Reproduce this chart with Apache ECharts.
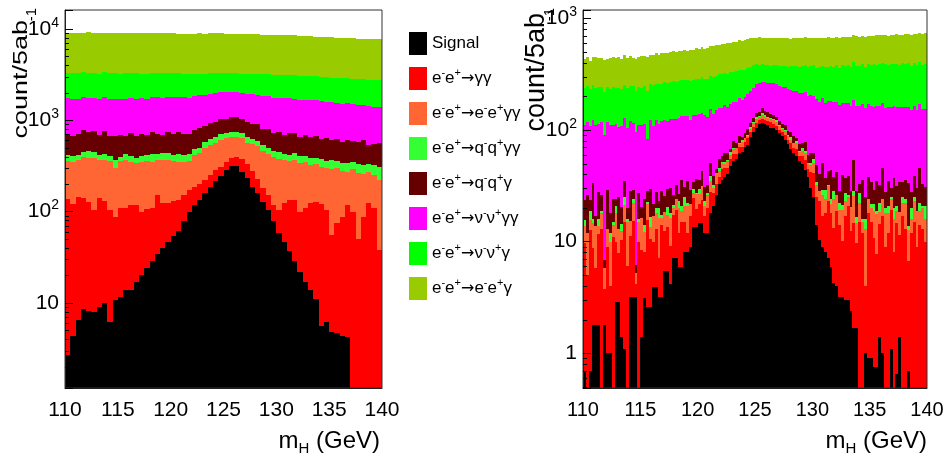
<!DOCTYPE html>
<html>
<head>
<meta charset="utf-8">
<script src="https://cdn.jsdelivr.net/npm/echarts@6/dist/echarts.min.js"></script>
<style>
  html, body { margin: 0; background: #fff; }
  #main { width: 952px; height: 456px; }
</style>
</head>
<body>
<div id="main"></div>
<script>
'use strict';

var FONT = '"Liberation Sans", Arial, sans-serif';

// processes, bottom of the stack first
var processes = ['Signal', 'e⁻e⁺→γγ', 'e⁻e⁺→e⁻e⁺γγ', 'e⁻e⁺→q⁻q⁺γγ', 'e⁻e⁺→q⁻q⁺γ', 'e⁻e⁺→ν⁻ν⁺γγ', 'e⁻e⁺→ν⁻ν⁺γ', 'e⁻e⁺→e⁻e⁺γ'];
var colors = ['#000000', '#ff0000', '#ff6633', '#33ff33', '#660000', '#ff00ff', '#00ff00', '#99cc00'];

var xTicks = [110, 115, 120, 125, 130, 135, 140];

// ---- left plot: 60 bins of 0.5 GeV, 110..140 ----
var sigL = [
  2.7, 4.3, 6.5, 8.6, 8.2, 8.0, 9.1, 10, 6.2, 10.8,
  11.7, 13.9, 14, 17, 20, 24, 29, 34, 40, 47,
  54, 62, 78, 98, 118, 135, 160, 185, 215, 248,
  282, 316, 312, 270, 233, 188, 160, 128, 104, 78,
  58, 46, 37, 29, 22, 17, 14, 11, 5.6, 6.2,
  4.8, 4.7, 4.3, 4.2, 0, 0, 0, 0, 0, 0
];
var gamgamL = [
  136, 116, 138, 131, 120, 96, 130, 120, 98, 77,
  98, 96, 104, 101, 80, 82, 81, 116, 85, 77,
  76, 73, 72, 73, 68, 65, 60, 65, 69, 60,
  63, 69, 88, 110, 100, 90, 65, 52, 46, 40,
  46, 78, 96, 104, 76, 93, 110, 117, 114, 98,
  50, 70, 83, 114, 100, 50, 87, 124, 110, 38
];
var eegamgamL = [
  221, 225, 225, 255, 257, 286, 231, 235, 256, 212,
  245, 260, 227, 222, 250, 254, 240, 215, 240, 246,
  230, 210, 195, 189, 229, 240, 280, 290, 286, 302,
  290, 265, 255, 260, 237, 267, 295, 280, 280, 277,
  276, 241, 227, 232, 242, 235, 196, 202, 190, 196,
  235, 225, 193, 152, 190, 215, 168, 146, 140, 182
];
var qqgamgamL = [
  55, 60, 48, 52, 70, 58, 45, 62, 50, 66,
  40, 55, 64, 48, 52, 58, 75, 60, 72, 66,
  58, 80, 75, 70, 68, 62, 72, 80, 85, 88,
  90, 92, 88, 82, 78, 80, 75, 70, 68, 62,
  66, 60, 58, 72, 65, 60, 70, 55, 68, 62,
  75, 58, 64, 72, 55, 68, 70, 62, 70, 90
];
var qqgamL = [
  300, 260, 290, 330, 280, 310, 270, 340, 260, 300,
  290, 250, 320, 280, 300, 270, 310, 290, 260, 300,
  280, 320, 290, 270, 300, 310, 290, 320, 300, 330,
  310, 340, 330, 310, 300, 290, 320, 280, 300, 270,
  290, 260, 300, 280, 250, 290, 260, 280, 240, 270,
  250, 260, 230, 270, 240, 250, 280, 200, 230, 260
];
var nunugamgamL = [
  1030, 1050, 1010, 1040, 1020, 1000, 1040, 1030, 1050, 1060,
  1030, 1050, 1020, 1060, 1040, 1030, 1050, 1070, 1060, 1040,
  1080, 1050, 1070, 1060, 1040, 1060, 1030, 1020, 1010, 1000,
  980, 960, 950, 970, 990, 1000, 990, 1020, 1030, 1040,
  1030, 1050, 1020, 1010, 1030, 990, 1000, 980, 990, 960,
  950, 940, 950, 930, 920, 900, 880, 890, 850, 810
];
var nunugamL = [
  1560, 1540, 1570, 1530, 1550, 1560, 1520, 1540, 1550, 1530,
  1520, 1540, 1510, 1530, 1500, 1520, 1510, 1490, 1500, 1480,
  1470, 1460, 1440, 1420, 1390, 1370, 1350, 1320, 1300, 1270,
  1250, 1230, 1230, 1240, 1260, 1290, 1310, 1340, 1360, 1380,
  1390, 1400, 1410, 1390, 1400, 1380, 1390, 1370, 1380, 1360,
  1370, 1350, 1360, 1340, 1350, 1360, 1340, 1350, 1360, 1370
];
var eegamL = [
  5800, 5750, 5820, 5780, 5850, 5760, 5800, 5740, 5790, 5770,
  5720, 5760, 5700, 5750, 5690, 5720, 5700, 5740, 5680, 5650,
  5700, 5640, 5680, 5660, 5620, 5680, 5650, 5700, 5640, 5660,
  5620, 5580, 5600, 5560, 5540, 5520, 5500, 5470, 5480, 5440,
  5400, 5380, 5350, 5360, 5300, 5280, 5260, 5220, 5200, 5180,
  5150, 5120, 5100, 5060, 5050, 5000, 4980, 4960, 5000, 4950
];

// ---- right plot: 120 bins of 0.25 GeV, 110..140 ----
var sigR = [
  0.7, 0, 0.7, 1.8, 1.8, 1.8, 0, 1.8, 1.0, 1.0,
  0, 2.9, 2.9, 1.4, 1.1, 0, 3.2, 3.2, 3.2, 0,
  1.4, 3.1, 2.6, 2.6, 3.9, 3.9, 3.2, 3.2, 5.5, 5.5,
  4.2, 7.2, 7.2, 5.9, 5.9, 8.0, 8.0, 8.9, 13.5, 13.5,
  14.6, 14.6, 12, 12, 18, 21, 26, 33, 36, 38,
  40, 48, 53, 55, 62, 64, 70, 74, 86, 95,
  104, 112, 115, 113, 110, 105, 105, 100, 93, 88,
  81, 75, 68, 62, 59, 53, 50, 44, 38, 30,
  25, 14, 10.3, 9, 8, 7.2, 5.9, 4.3, 4.0, 3.2,
  3.2, 3.0, 3.0, 2.4, 1.7, 1.7, 0, 0, 1.0, 0.9,
  0.9, 0.75, 0.75, 1.4, 1.0, 0, 0, 1.1, 0, 0.65,
  1.4, 0, 0, 0.7, 0, 0, 0, 0, 0, 0
];
var gamgamR = [
  9, 5, 12, 7, 4, 10, 13, 2, 8, 3,
  11, 7, 5, 9, 14, 6, 8, 12, 1, 10,
  7, 5, 13, 8, 6, 9, 4, 11, 7, 8,
  5, 10, 12, 6, 9, 7, 4, 8, 11, 6,
  7, 9, 5, 8, 10, 6, 7, 5, 9, 8,
  6, 7, 8, 6, 9, 7, 8, 10, 9, 11,
  12, 10, 11, 9, 10, 12, 8, 9, 7, 8,
  10, 6, 9, 7, 8, 6, 9, 10, 7, 12,
  16, 11, 13, 8, 10, 16, 12, 9, 15, 11,
  7, 14, 18, 10, 13, 8, 15, 12, 3, 17,
  14, 10, 7, 13, 16, 9, 12, 18, 8, 14,
  10, 17, 13, 6, 12, 15, 9, 14, 13, 10
];
var eegamgamR = [
  4, 7, 3, 6, 8, 2, 5, 2, 4, 6,
  3, 8, 5, 2, 6, 9, 4, 7, 1, 5,
  8, 4, 6, 3, 7, 5, 9, 2, 6, 4,
  7, 3, 5, 8, 4, 6, 9, 5, 3, 7,
  5, 8, 4, 6, 7, 3, 8, 5, 6, 4,
  7, 5, 6, 8, 4, 7, 6, 5, 8, 9,
  10, 9, 11, 10, 9, 8, 10, 9, 8, 7,
  6, 8, 5, 7, 9, 4, 6, 8, 5, 7,
  10, 7, 5, 9, 6, 8, 4, 11, 7, 5,
  9, 6, 4, 8, 11, 5, 7, 3, 9, 6,
  5, 8, 10, 4, 7, 9, 6, 5, 8, 4,
  7, 5, 9, 6, 4, 8, 10, 5, 7, 6
];
var qqgamgamR = [
  2, 0, 3, 1, 0, 2, 1, 0, 0, 2,
  1, 3, 0, 2, 4, 1, 0, 2, 0, 1,
  0, 2, 1, 3, 0, 2, 4, 1, 0, 3,
  2, 1, 0, 3, 2, 4, 1, 0, 2, 1,
  3, 0, 2, 1, 4, 2, 0, 3, 1, 2,
  1, 3, 2, 0, 2, 3, 1, 2, 4, 3,
  4, 3, 5, 4, 3, 4, 3, 4, 3, 2,
  3, 2, 4, 1, 3, 2, 4, 3, 1, 2,
  4, 2, 0, 3, 5, 1, 2, 4, 0, 3,
  2, 4, 1, 0, 3, 2, 5, 1, 3, 0,
  2, 3, 1, 4, 0, 2, 3, 1, 4, 2,
  0, 3, 2, 1, 4, 2, 0, 3, 1, 5
];
var qqgamR = [
  8, 14, 5, 18, 3, 12, 7, 1, 16, 6,
  9, 3, 12, 6, 10, 4, 13, 5, 1, 11,
  4, 10, 6, 13, 5, 8, 3, 11, 7, 9,
  12, 5, 8, 4, 15, 6, 13, 7, 5, 9,
  6, 11, 8, 5, 12, 7, 4, 9, 6, 10,
  8, 5, 10, 7, 12, 6, 9, 11, 8, 10,
  12, 11, 14, 13, 12, 10, 11, 9, 10, 8,
  11, 7, 9, 12, 6, 10, 8, 13, 9, 11,
  7, 15, 12, 22, 8, 11, 20, 10, 16, 6,
  18, 10, 13, 8, 25, 12, 6, 20, 9, 14,
  12, 7, 16, 10, 22, 8, 14, 5, 17, 11,
  16, 9, 12, 20, 8, 14, 11, 24, 12, 10
];
var nunugamgamR = [
  88, 92, 85, 90, 94, 86, 91, 84, 89, 93,
  87, 90, 82, 88, 92, 85, 91, 86, 89, 84,
  90, 88, 55, 92, 87, 95, 89, 93, 97, 91,
  96, 99, 94, 100, 97, 102, 98, 95, 101, 99,
  103, 100, 105, 98, 104, 101, 106, 102, 99, 104,
  100, 103, 98, 102, 105, 100, 104, 108, 110, 112,
  114, 116, 115, 118, 120, 122, 125, 126, 128, 130,
  132, 134, 135, 136, 138, 140, 139, 141, 140, 142,
  140, 141, 139, 142, 138, 140, 137, 139, 136, 138,
  135, 137, 134, 136, 133, 135, 132, 134, 131, 133,
  130, 132, 129, 131, 128, 130, 127, 129, 126, 128,
  125, 127, 124, 126, 123, 125, 122, 124, 121, 123
];
var nunugamR = [
  125, 130, 122, 128, 126, 131, 124, 129, 127, 123,
  130, 126, 132, 125, 128, 134, 127, 131, 126, 133,
  129, 135, 140, 138, 142, 136, 144, 139, 145, 141,
  143, 148, 144, 150, 146, 149, 145, 151, 147, 152,
  148, 153, 150, 155, 151, 156, 152, 157, 158, 160,
  158, 162, 156, 160, 154, 158, 150, 152, 145, 138,
  130, 122, 118, 115, 114, 116, 118, 122, 125, 130,
  133, 138, 142, 146, 150, 155, 158, 162, 166, 170,
  176, 172, 185, 180, 192, 186, 195, 188, 200, 194,
  206, 198, 210, 204, 216, 208, 212, 220, 214, 222,
  218, 226, 220, 230, 222, 228, 216, 232, 224, 229,
  221, 233, 226, 235, 224, 230, 227, 236, 228, 234
];
var eegamR = [
  195, 205, 188, 200, 210, 192, 198, 207, 190, 203,
  212, 200, 208, 196, 215, 204, 210, 198, 214, 206,
  218, 210, 224, 212, 220, 228, 216, 225, 219, 230,
  226, 235, 230, 238, 232, 242, 236, 245, 240, 250,
  246, 255, 250, 260, 256, 265, 270, 262, 275, 268,
  280, 274, 285, 278, 290, 284, 295, 288, 296, 290,
  286, 292, 280, 288, 282, 290, 285, 294, 288, 296,
  290, 298, 286, 295, 300, 292, 288, 302, 294, 298,
  292, 305, 296, 288, 300, 310, 294, 302, 298, 306,
  300, 312, 296, 308, 302, 316, 306, 298, 310, 304,
  314, 306, 320, 310, 318, 326, 312, 322, 316, 330,
  324, 318, 332, 326, 338, 330, 342, 336, 344, 350
];

var leftSets = [sigL, gamgamL, eegamgamL, qqgamgamL, qqgamL, nunugamgamL, nunugamL, eegamL];
var rightSets = [sigR, gamgamR, eegamgamR, qqgamgamR, qqgamR, nunugamgamR, nunugamR, eegamR];

var chart = echarts.init(document.getElementById('main'), null, {renderer: 'canvas'});

function binRenderer(yMin) {
  return function (params, api) {
    var lo = Math.max(api.value(2), yMin);
    var hi = api.value(3);
    if (!(hi > lo)) return null;
    var p0 = api.coord([api.value(0), hi]);
    var p1 = api.coord([api.value(1), lo]);
    var x = Math.round(p0[0]), y = Math.round(p0[1]);
    return {
      type: 'rect',
      shape: {x: x, y: y, width: Math.round(p1[0]) - x, height: Math.round(p1[1]) - y},
      style: {fill: api.visual('color')}
    };
  };
}

// stacked histogram, one custom series per process
function stackSeries(sets, axisIndex, yMin) {
  var n = sets[0].length;
  var bw = 30 / n;
  var base = sets[0].map(function () { return 0; });
  return sets.map(function (vals, k) {
    var data = vals.map(function (v, i) {
      var lo = base[i];
      base[i] = lo + v;
      return [110 + i * bw, 110 + (i + 1) * bw, lo, lo + v];
    });
    return {
      name: processes[k],
      type: 'custom',
      xAxisIndex: axisIndex,
      yAxisIndex: axisIndex,
      itemStyle: {color: colors[k]},
      encode: {x: 0, y: 3},
      renderItem: binRenderer(yMin),
      data: data,
      silent: true,
      z: 2
    };
  });
}

// small log ticks (2..9 x 10^n) like the ROOT axis
function minorTickSeries(axisIndex, yMin, yMax) {
  var vals = [];
  for (var e = -1; e <= 4; e++) {
    for (var m = 2; m <= 9; m++) {
      var v = m * Math.pow(10, e);
      if (v > yMin && v < yMax) vals.push([v]);
    }
  }
  return {
    type: 'custom',
    xAxisIndex: axisIndex,
    yAxisIndex: axisIndex,
    encode: {y: 0},
    silent: true,
    z: 5,
    data: vals,
    renderItem: function (params, api) {
      var p = api.coord([110, api.value(0)]);
      var y = Math.round(p[1]) + 0.5;
      return {
        type: 'line',
        shape: {x1: p[0], y1: y, x2: p[0] + 4, y2: y},
        style: {stroke: '#000', lineWidth: 1}
      };
    }
  };
}

function powLabel(v) {
  var lg = Math.log10(v);
  var e = Math.round(lg);
  if (Math.abs(lg - e) > 1e-6) return '';
  if (e === 0) return '1';
  if (e === 1) return '10';
  return '{b|10}{s|' + e + '}';
}

function xAxisOpt(gi, size) {
  return {
    gridIndex: gi, type: 'value', min: 110, max: 140, interval: 5,
    axisLine: {show: true, lineStyle: {color: '#222'}},
    axisTick: {show: false},
    splitLine: {show: false},
    axisLabel: {fontSize: size, color: '#000', margin: 12, fontFamily: FONT,
      customValues: xTicks},
    z: 4
  };
}

function yAxisOpt(gi, min, max) {
  return {
    gridIndex: gi, type: 'log', logBase: 10, min: min, max: max,
    splitLine: {show: false},
    axisLine: {show: true, lineStyle: {color: '#222'}},
    axisTick: {show: true, inside: true, length: 8, lineStyle: {color: '#000'}},
    axisLabel: {
      margin: 6, color: '#000', fontSize: 21, fontFamily: FONT,
      formatter: powLabel,
      rich: {
        b: {fontSize: 21, lineHeight: 26, color: '#000', fontFamily: FONT},
        s: {fontSize: 14, lineHeight: 14, verticalAlign: 'top', color: '#000', fontFamily: FONT}
      }
    },
    z: 4
  };
}

function legendName(name) {
  return name.split(/([⁻⁺→])/).map(function (p) {
    if (!p) return '';
    if (p === '⁻') return '{s|-}';
    if (p === '⁺') return '{s|+}';
    if (p === '→') return '{a|→}';
    return '{t|' + p + '}';
  }).join('');
}

var mhRich = {
  m: {fontSize: 24, lineHeight: 30, color: '#000', fontFamily: FONT},
  h: {fontSize: 15, lineHeight: 15, verticalAlign: 'bottom', color: '#000', fontFamily: FONT}
};

var option = {
  animation: false,
  backgroundColor: '#fff',
  textStyle: {fontFamily: FONT},
  grid: [
    {left: 65, top: 10, width: 317, height: 378, show: true, borderColor: '#333', borderWidth: 1, backgroundColor: 'transparent', z: 3},
    {left: 583, top: 10, width: 344, height: 378, show: true, borderColor: '#333', borderWidth: 1, backgroundColor: 'transparent', z: 3}
  ],
  xAxis: [xAxisOpt(0, 21), xAxisOpt(1, 20)],
  yAxis: [yAxisOpt(0, 1.17, 16100), yAxisOpt(1, 0.489, 1187)],
  legend: {
    data: processes,
    orient: 'vertical',
    left: 409,
    top: 32,
    padding: 0,
    icon: 'rect',
    itemWidth: 18,
    itemHeight: 23,
    itemGap: 12,
    selectedMode: false,
    formatter: legendName,
    textStyle: {
      color: '#000', fontSize: 17, fontFamily: FONT,
      rich: {
        t: {fontSize: 17, lineHeight: 22, color: '#000', fontFamily: FONT},
        a: {fontSize: 16, lineHeight: 22, color: '#000', fontFamily: '"DejaVu Sans", sans-serif'},
        s: {fontSize: 11, lineHeight: 11, verticalAlign: 'top', color: '#000', fontFamily: FONT}
      }
    }
  },
  graphic: [
    {type: 'text', x: 21, y: 20, rotation: Math.PI / 2, scaleY: 0.75,
      style: {text: 'count/5ab', font: '27px ' + FONT, fill: '#000', align: 'right', verticalAlign: 'middle'}},
    {type: 'text', x: 32, y: 8, rotation: Math.PI / 2,
      style: {text: '-1', font: '15px ' + FONT, fill: '#000', align: 'right', verticalAlign: 'middle'}},
    {type: 'text', x: 537, y: 13, rotation: Math.PI / 2,
      style: {text: 'count/5ab', font: '27px ' + FONT, fill: '#000', align: 'right', verticalAlign: 'middle'}},
    {type: 'text', x: 550, y: 8, rotation: Math.PI / 2,
      style: {text: '-1', font: '15px ' + FONT, fill: '#000', align: 'right', verticalAlign: 'middle'}},
    {type: 'text', x: 380, y: 441,
      style: {text: '{m|m}{h|H}{m| (GeV)}', rich: mhRich, align: 'right', verticalAlign: 'middle'}},
    {type: 'text', x: 927, y: 441,
      style: {text: '{m|m}{h|H}{m| (GeV)}', rich: mhRich, align: 'right', verticalAlign: 'middle'}}
  ],
  series: []
    .concat(stackSeries(leftSets, 0, 1.17))
    .concat(stackSeries(rightSets, 1, 0.489))
    .concat([minorTickSeries(0, 1.17, 16100), minorTickSeries(1, 0.489, 1187)])
};

chart.setOption(option);
</script>
</body>
</html>
